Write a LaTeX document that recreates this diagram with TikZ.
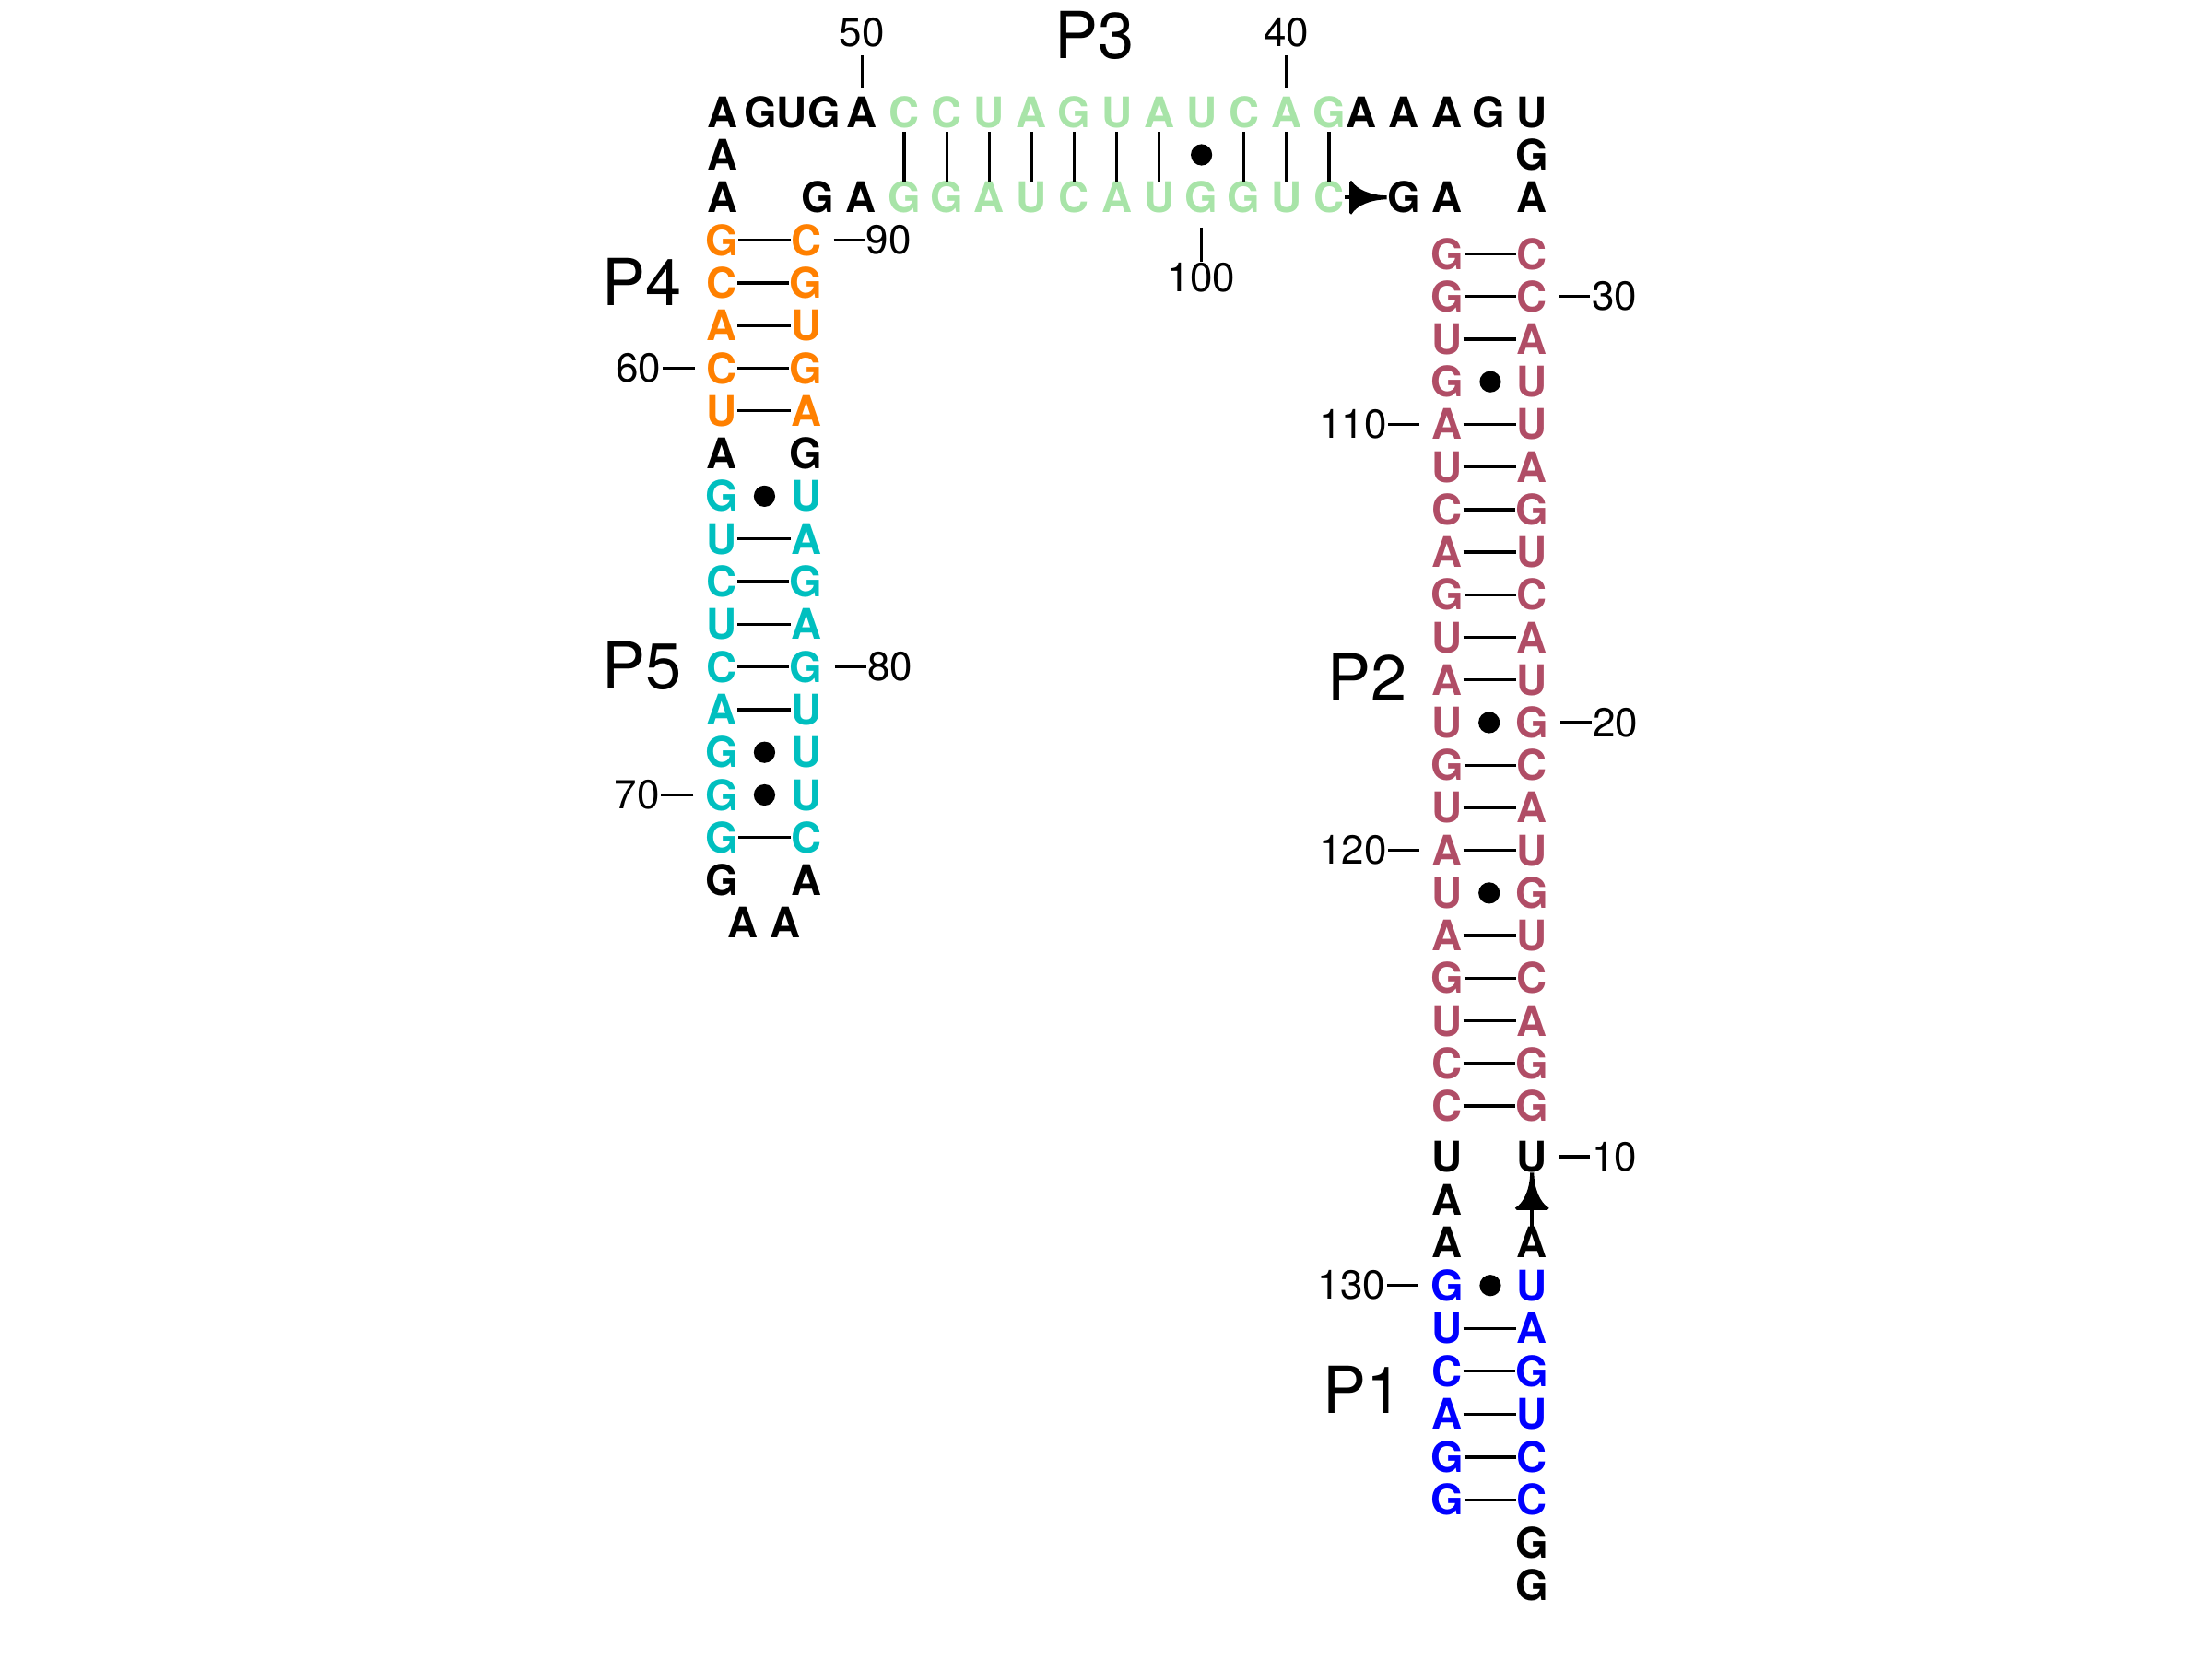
\documentclass[tikz,border=0pt]{standalone}
\usepackage{fontspec}
\setmainfont{TeX Gyre Heros}
\usetikzlibrary{arrows.meta}

\pgfdeclarearrow{
  name = Bell,
  parameters = {\the\pgfarrowlength,\the\pgfarrowwidth},
  setup code = {
    \pgfarrowssettipend{0pt}
    \pgfarrowssetlineend{-0.3\pgfarrowlength}
    \pgfarrowssetbackend{-\pgfarrowlength}
    \pgfarrowssetvisualbackend{-\pgfarrowlength}
    \pgfarrowssavethe\pgfarrowlength
    \pgfarrowssavethe\pgfarrowwidth
  },
  drawing code = {
    \pgfpathmoveto{\pgfqpoint{0pt}{0.6pt}}
    \pgfpathcurveto{\pgfqpoint{-0.4\pgfarrowlength}{0.6pt}}{\pgfqpoint{-0.8\pgfarrowlength}{0.22\pgfarrowwidth}}{\pgfqpoint{-0.95\pgfarrowlength}{0.5\pgfarrowwidth}}
    \pgfpathlineto{\pgfqpoint{-\pgfarrowlength}{0.45\pgfarrowwidth}}
    \pgfpathlineto{\pgfqpoint{-\pgfarrowlength}{-0.45\pgfarrowwidth}}
    \pgfpathlineto{\pgfqpoint{-0.95\pgfarrowlength}{-0.5\pgfarrowwidth}}
    \pgfpathcurveto{\pgfqpoint{-0.8\pgfarrowlength}{-0.22\pgfarrowwidth}}{\pgfqpoint{-0.4\pgfarrowlength}{-0.6pt}}{\pgfqpoint{0pt}{-0.6pt}}
    \pgfpathclose
    \pgfusepathqfill
  },
  defaults = {length = 11pt, width = 9pt}
}

\definecolor{pfour}{RGB}{255,128,0}
\definecolor{pfive}{RGB}{0,191,191}
\definecolor{ptwo}{RGB}{176,77,102}
\definecolor{pone}{RGB}{0,0,255}
\definecolor{pthree}{RGB}{168,228,168}

% name, xL, xR, y, left letter, right letter, type (l = line, d = dot, n = none), colour
\newcommand{\pairrow}[8]{%
  \node[nt, text=#8] (#1L) at (#2,#4) {#5};
  \node[nt, text=#8] (#1R) at (#3,#4) {#6};
  \if l#7\draw[bond] (#1L) -- (#1R);\fi
  \if d#7\path (#1L) -- node[gudot] (#1D) {} (#1R);\fi
}

\begin{document}
\begin{tikzpicture}[x=0.0153061cm, y=-0.0153061cm,
  nt/.style={inner sep=0pt, minimum width=9.4pt, text height=9.4pt, text depth=0pt,
    font=\fontsize{13}{15}\selectfont\bfseries},
  num/.style={inner sep=0pt, font=\fontsize{12.5}{15}\selectfont},
  plab/.style={inner sep=0pt, font=\fontsize{20}{24}\selectfont},
  bond/.style={line width=0.95pt},
  gudot/.style={circle, fill=black, inner sep=0pt, minimum size=6.6pt},
  tickline/.style={line width=0.95pt},
  arr/.style={line width=1.1pt, -{Bell[length=11.5pt,width=10.5pt]}}
]
\useasboundingbox (0,0) rectangle (1568,1176);

% ---------- top row (y = 79.5) ----------
\node[nt] (tA1) at (512,79.5) {A};
\node[nt] (tG1) at (539,79.5) {G};
\node[nt] (tU1) at (561,79.5) {U};
\node[nt] (tG2) at (584,79.5) {G};
\node[nt] (tA2) at (611,79.5) {A};
\node[nt] (tA3) at (965,79.5) {A};
\node[nt] (tA4) at (995,79.5) {A};
\node[nt] (tA5) at (1026,79.5) {A};
\node[nt] (tG3) at (1055,79.5) {G};
\node[nt] (tU2) at (1086,79.5) {U};
% row 1
\node[nt] (r1A) at (512,109.75) {A};
\node[nt] (r1G) at (1086,109.75) {G};
% row 2
\node[nt] (r2A) at (512,140) {A};
\node[nt] (r2G) at (580,140) {G};
\node[nt] (r2A2) at (610,140) {A};
\node[nt] (r2G3) at (995,140) {G};
\node[nt] (r2A3) at (1026,140) {A};
\node[nt] (r2A4) at (1086,140) {A};

% ---------- P3 ----------
\foreach \i/\t/\b in {0/C/G,1/C/G,2/U/A,3/A/U,4/G/C,5/U/A,6/A/U,7/U/G,8/C/G,9/A/U,10/G/C}{
  \node[nt, text=pthree] (t\i) at ({641+30.1*\i},79.5) {\t};
  \node[nt, text=pthree] (b\i) at ({641+30.1*\i},140) {\b};
}
\foreach \i in {0,1,2,3,4,5,6,8,9,10}{
  \draw[bond, shorten <=1.3pt] (t\i) -- (b\i);
}
\path (t7) -- node[gudot] (d7) {} (b7);

% arrow C -> G
\draw[arr] (b10) -- (r2G3);

% ---------- P4 / P5 ----------
\pairrow{s3}{511.5}{571.5}{170.25}{G}{C}{l}{pfour}
\pairrow{s4}{511.5}{571.5}{200.5}{C}{G}{l}{pfour}
\pairrow{s5}{511.5}{571.5}{230.75}{A}{U}{l}{pfour}
\pairrow{s6}{511.5}{571.5}{261}{C}{G}{l}{pfour}
\pairrow{s7}{511.5}{571.5}{291.25}{U}{A}{l}{pfour}
\pairrow{s8}{511.5}{571.5}{321.5}{A}{G}{n}{black}
\pairrow{s9}{511.5}{571.5}{351.75}{G}{U}{d}{pfive}
\pairrow{s10}{511.5}{571.5}{382}{U}{A}{l}{pfive}
\pairrow{s11}{511.5}{571.5}{412.25}{C}{G}{l}{pfive}
\pairrow{s12}{511.5}{571.5}{442.5}{U}{A}{l}{pfive}
\pairrow{s13}{511.5}{571.5}{472.75}{C}{G}{l}{pfive}
\pairrow{s14}{511.5}{571.5}{503}{A}{U}{l}{pfive}
\pairrow{s15}{511.5}{571.5}{533.25}{G}{U}{d}{pfive}
\pairrow{s16}{511.5}{571.5}{563.5}{G}{U}{d}{pfive}
\pairrow{s17}{511.5}{571.5}{593.75}{G}{C}{l}{pfive}
\pairrow{s18}{511.5}{571.5}{624}{G}{A}{n}{black}
\node[nt] (s19L) at (526.5,654.25) {A};
\node[nt] (s19R) at (556.5,654.25) {A};

% ---------- P2 ----------
\pairrow{q0}{1026}{1086}{180}{G}{C}{l}{ptwo}
\pairrow{q1}{1026}{1086}{210.2}{G}{C}{l}{ptwo}
\pairrow{q2}{1026}{1086}{240.4}{U}{A}{l}{ptwo}
\pairrow{q3}{1026}{1086}{270.6}{G}{U}{d}{ptwo}
\pairrow{q4}{1026}{1086}{300.8}{A}{U}{l}{ptwo}
\pairrow{q5}{1026}{1086}{331}{U}{A}{l}{ptwo}
\pairrow{q6}{1026}{1086}{361.2}{C}{G}{l}{ptwo}
\pairrow{q7}{1026}{1086}{391.4}{A}{U}{l}{ptwo}
\pairrow{q8}{1026}{1086}{421.6}{G}{C}{l}{ptwo}
\pairrow{q9}{1026}{1086}{451.8}{U}{A}{l}{ptwo}
\pairrow{q10}{1026}{1086}{482}{A}{U}{l}{ptwo}
\pairrow{q11}{1026}{1086}{512.2}{U}{G}{d}{ptwo}
\pairrow{q12}{1026}{1086}{542.4}{G}{C}{l}{ptwo}
\pairrow{q13}{1026}{1086}{572.6}{U}{A}{l}{ptwo}
\pairrow{q14}{1026}{1086}{602.8}{A}{U}{l}{ptwo}
\pairrow{q15}{1026}{1086}{633}{U}{G}{d}{ptwo}
\pairrow{q16}{1026}{1086}{663.2}{A}{U}{l}{ptwo}
\pairrow{q17}{1026}{1086}{693.4}{G}{C}{l}{ptwo}
\pairrow{q18}{1026}{1086}{723.6}{U}{A}{l}{ptwo}
\pairrow{q19}{1026}{1086}{753.8}{C}{G}{l}{ptwo}
\pairrow{q20}{1026}{1086}{784}{C}{G}{l}{ptwo}

% ---------- junction and P1 ----------
\pairrow{u0}{1026}{1086}{820}{U}{U}{n}{black}
\node[nt] (u1L) at (1026,850.4) {A};
\pairrow{u2}{1026}{1086}{880.8}{A}{A}{n}{black}
\draw[arr] (u2R) -- (u0R);
\pairrow{u3}{1026}{1086}{911.2}{G}{U}{d}{pone}
\pairrow{u4}{1026}{1086}{941.6}{U}{A}{l}{pone}
\pairrow{u5}{1026}{1086}{972}{C}{G}{l}{pone}
\pairrow{u6}{1026}{1086}{1002.4}{A}{U}{l}{pone}
\pairrow{u7}{1026}{1086}{1032.8}{G}{C}{l}{pone}
\pairrow{u8}{1026}{1086}{1063.2}{G}{C}{l}{pone}
\node[nt] (u9R) at (1086,1093.6) {G};
\node[nt] (u10R) at (1086,1124) {G};

% ---------- numbering ticks ----------
\draw[tickline] ([yshift=2.5pt]tA2.north) -- ++(0,-23) node[num, anchor=south, yshift=2.2pt] (n50) {50};
\draw[tickline] ([yshift=2.5pt]t9.north) -- ++(0,-23) node[num, anchor=south, yshift=2.2pt] (n40) {40};
\draw[tickline] ([yshift=-4.4pt]b7.south) -- ++(0,24) node[num, anchor=north] (n100) {100};

\draw[tickline] ([xshift=3.6pt]s3R.east) -- ++(22,0) node[num, anchor=west] (n90) {90};
\draw[tickline] ([xshift=3.6pt]s13R.east) -- ++(22,0) node[num, anchor=west] (n80) {80};
\draw[tickline] ([xshift=-3.4pt]s6L.west) -- ++(-23,0) node[num, anchor=east] (n60) {60};
\draw[tickline] ([xshift=-3.4pt]s16L.west) -- ++(-23,0) node[num, anchor=east] (n70) {70};

\draw[tickline] ([xshift=3.5pt]q1R.east) -- ++(22,0) node[num, anchor=west] (n30) {30};
\draw[tickline] ([xshift=3.5pt]q11R.east) -- ++(22,0) node[num, anchor=west] (n20) {20};
\draw[tickline] ([xshift=3.5pt]u0R.east) -- ++(22,0) node[num, anchor=west] (n10) {10};
\draw[tickline] ([xshift=-3.8pt]q4L.west) -- ++(-22,0) node[num, anchor=east] (n110) {110};
\draw[tickline] ([xshift=-3.8pt]q14L.west) -- ++(-22,0) node[num, anchor=east] (n120) {120};
\draw[tickline] ([xshift=-3.8pt]u3L.west) -- ++(-22,0) node[num, anchor=east] (n130) {130};

% ---------- helix labels ----------
\node[plab] (lP3) at (776,25) {P3};
\node[plab] (lP4) at (455,200) {P4};
\node[plab] (lP5) at (455,472) {P5};
\node[plab] (lP2) at (969,480) {P2};
\node[plab] (lP1) at (966,985) {P1};
\end{tikzpicture}
\end{document}
